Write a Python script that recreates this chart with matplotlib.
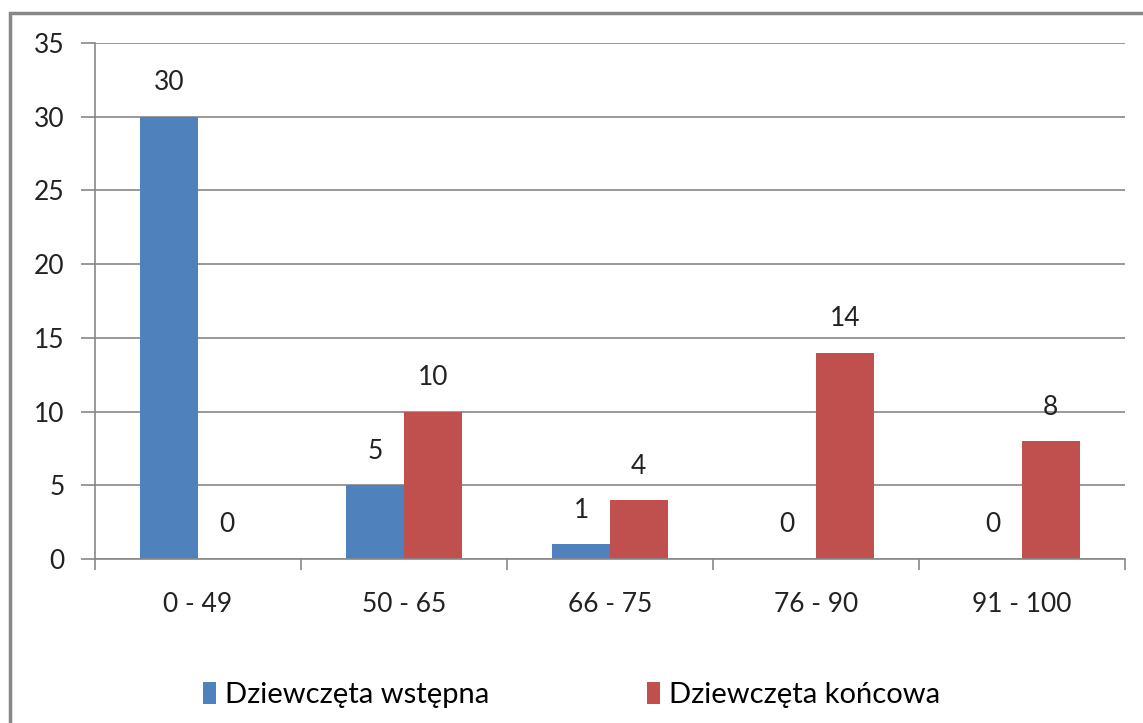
import numpy as np
import matplotlib.pyplot as plt
from matplotlib.patches import Rectangle

categories = ['0 - 49', '50 - 65', '66 - 75', '76 - 90', '91 - 100']
wstepna = [30, 5, 1, 0, 0]
koncowa = [0, 10, 4, 14, 8]
labels = ['Dziewczęta wstępna', 'Dziewczęta końcowa']

plt.rcParams['font.family'] = ['Lato', 'DejaVu Sans']

W, H = 1143, 723
fig = plt.figure(figsize=(W / 100, H / 100), dpi=100)
ax = fig.add_axes([95 / W, (H - 559) / H, 1030 / W, 516 / H])

x = np.arange(len(categories))
bw = 0.28
b1 = ax.bar(x - bw / 2, wstepna, bw, color='#4F81BD', label=labels[0])
b2 = ax.bar(x + bw / 2, koncowa, bw, color='#C0504D', label=labels[1])

for bars, vals in ((b1, wstepna), (b2, koncowa)):
    for rect, v in zip(bars, vals):
        ax.annotate(str(v), (rect.get_x() + rect.get_width() / 2, v),
                    xytext=(0, 34), textcoords='offset pixels',
                    ha='center', va='center', fontsize=19, color='#222222')

ax.set_xlim(-0.5, len(categories) - 0.5)
ax.set_ylim(0, 35)
ax.set_yticks(range(0, 36, 5))
ax.set_xticks(x)
ax.set_xticklabels(categories)
ax.set_xticks(np.arange(-0.5, len(categories)), minor=True)
ax.tick_params(axis='x', which='major', length=0, pad=24, labelsize=19, labelcolor='#222222')
ax.tick_params(axis='x', which='minor', length=8, color='#888888', width=1.2)
ax.tick_params(axis='y', length=10, color='#888888', width=1.2, pad=12, labelsize=19, labelcolor='#222222')

ax.grid(axis='y', color='#888888', linewidth=1.2)
ax.set_axisbelow(True)
for s in ['top', 'right']:
    ax.spines[s].set_visible(False)
ax.spines['left'].set_color('#888888')
ax.spines['bottom'].set_color('#888888')
ax.spines['left'].set_linewidth(1.2)
ax.spines['bottom'].set_linewidth(1.2)

# outer chart frame
fig.patches.append(Rectangle((10 / W, -0.2), 1.2, 1.2 - 13 / H, transform=fig.transFigure,
                             fill=False, edgecolor='#888888', linewidth=2.5))

fig.legend(handles=[b1, b2], loc='center', bbox_to_anchor=(0.5, 1 - 695 / H),
           ncol=2, frameon=False, fontsize=21, handlelength=0.45, handleheight=0.8,
           handletextpad=0.3, columnspacing=5.4)

plt.savefig('out.png', dpi=100)
